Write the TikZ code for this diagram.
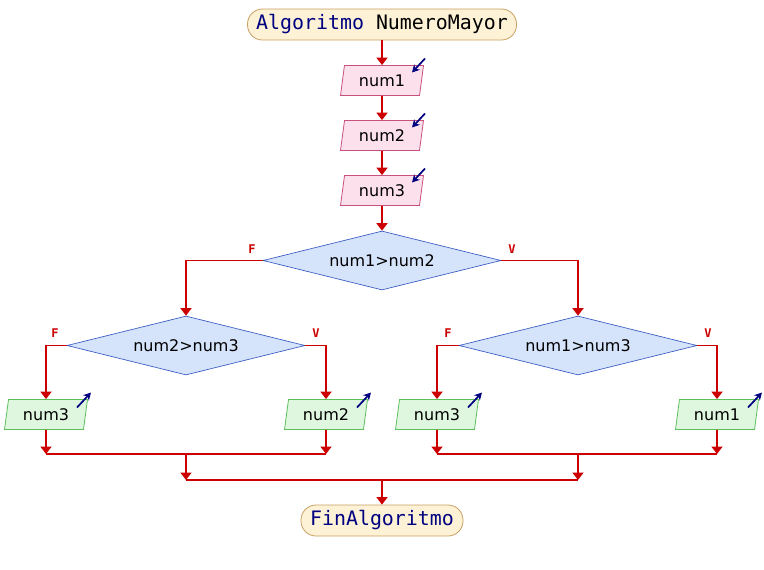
\documentclass[tikz,border=0pt]{standalone}
\usepackage{fontspec}
\setmainfont{DejaVu Sans}
\newfontfamily\monof{DejaVu Sans Mono}
\usetikzlibrary{shapes.geometric,arrows.meta}
\definecolor{flow}{HTML}{CC0000}
\definecolor{termf}{HTML}{FDF1D6}
\definecolor{termb}{HTML}{C9A063}
\definecolor{inf}{HTML}{FCE1EC}
\definecolor{inb}{HTML}{C8507E}
\definecolor{outf}{HTML}{DFF7DF}
\definecolor{outb}{HTML}{5CBF5C}
\definecolor{decf}{HTML}{D5E4FB}
\definecolor{decb}{HTML}{3F5FC4}
\definecolor{kw}{HTML}{000080}
\begin{document}
\begin{tikzpicture}[x=1pt,y=-1pt,
  term/.style={draw=termb, fill=termf, rounded corners=15pt, minimum height=31pt,
    inner sep=0pt, line width=0.8pt, font=\monof\fontsize{19.9}{23}\selectfont},
  para/.style={trapezium, trapezium left angle=71.6, trapezium right angle=108.4,
    trapezium stretches body, minimum width=83pt, minimum height=30pt,
    inner sep=0pt, line width=0.8pt, font=\fontsize{16}{19}\selectfont},
  inbox/.style={para, draw=inb, fill=inf},
  outbox/.style={para, draw=outb, fill=outf},
  dec/.style={diamond, aspect=4, draw=decb, fill=decf, minimum width=238pt,
    minimum height=59pt, inner sep=0pt, line width=0.7pt, font=\fontsize{16}{19}\selectfont},
  flowline/.style={draw=flow, line width=1.8pt},
  flowarrow/.style={flowline, -{Triangle[width=11pt,length=7.5pt]}},
  lbl/.style={text=flow, font=\monof\bfseries\fontsize{12}{14}\selectfont, inner sep=0pt},
  inicon/.style={draw=kw, line width=1.7pt, -{Stealth[length=7.5pt,width=8pt]}},
]
\useasboundingbox (0,0) rectangle (764,570);

\node[term, minimum width=269pt] (start) at (382,24.5) {\textcolor{kw}{Algoritmo} NumeroMayor};
\node[inbox] (in1) at (382,80.5) {num1};
\node[inbox] (in2) at (382,135.5) {num2};
\node[inbox] (in3) at (382,190.5) {num3};
\node[dec] (d1) at (382,260.5) {num1>num2};
\node[dec] (d2) at (186,345.5) {num2>num3};
\node[dec] (d3) at (578,345.5) {num1>num3};
\node[outbox] (o1) at (46,414.5) {num3};
\node[outbox] (o2) at (326,414.5) {num2};
\node[outbox] (o3) at (437,414.5) {num3};
\node[outbox] (o4) at (717,414.5) {num1};
\node[term, minimum width=162pt, text=kw] (end) at (382,520.5) {FinAlgoritmo};

\node[lbl] (f1) at (252,249) {F};
\node[lbl] (v1) at (512,249) {V};
\node[lbl] (f2) at (55,333) {F};
\node[lbl] (v2) at (316,333) {V};
\node[lbl] (f3) at (448,333) {F};
\node[lbl] (v3) at (708,333) {V};

\foreach \n in {in1,in2,in3}
  \draw[inicon] ([shift={(43,-22)}]\n.center) -- ([shift={(30,-8)}]\n.center);
\foreach \n in {o1,o2,o3,o4}
  \draw[inicon] ([shift={(31,-7)}]\n.center) -- ([shift={(45,-22)}]\n.center);

\draw[flowarrow] (start) -- (in1);
\draw[flowarrow] (in1) -- (in2);
\draw[flowarrow] (in2) -- (in3);
\draw[flowarrow] (in3) -- (d1);
\draw[flowarrow] (d1.west) -| (d2.north);
\draw[flowarrow] (d1.east) -| (d3.north);
\draw[flowarrow] (d2.west) -| (o1.north);
\draw[flowarrow] (d2.east) -| (o2.north);
\draw[flowarrow] (d3.west) -| (o3.north);
\draw[flowarrow] (d3.east) -| (o4.north);

\coordinate (j1) at (o1.center |- 0,454);
\coordinate (j2) at (o2.center |- 0,454);
\coordinate (j3) at (o3.center |- 0,454);
\coordinate (j4) at (o4.center |- 0,454);
\coordinate (jl) at (d2.center |- 0,454);
\coordinate (jr) at (d3.center |- 0,454);
\coordinate (kl) at (d2.center |- 0,480);
\coordinate (kr) at (d3.center |- 0,480);
\coordinate (km) at (start.center |- 0,480);

\draw[flowarrow] (o1.south) -- (j1);
\draw[flowarrow] (o2.south) -- (j2);
\draw[flowarrow] (o3.south) -- (j3);
\draw[flowarrow] (o4.south) -- (j4);
\draw[flowline] (j1) -- (j2);
\draw[flowline] (j3) -- (j4);
\draw[flowarrow] (jl) -- (kl);
\draw[flowarrow] (jr) -- (kr);
\draw[flowline] (kl) -- (kr);
\draw[flowarrow] (km) -- (end);
\end{tikzpicture}
\end{document}
